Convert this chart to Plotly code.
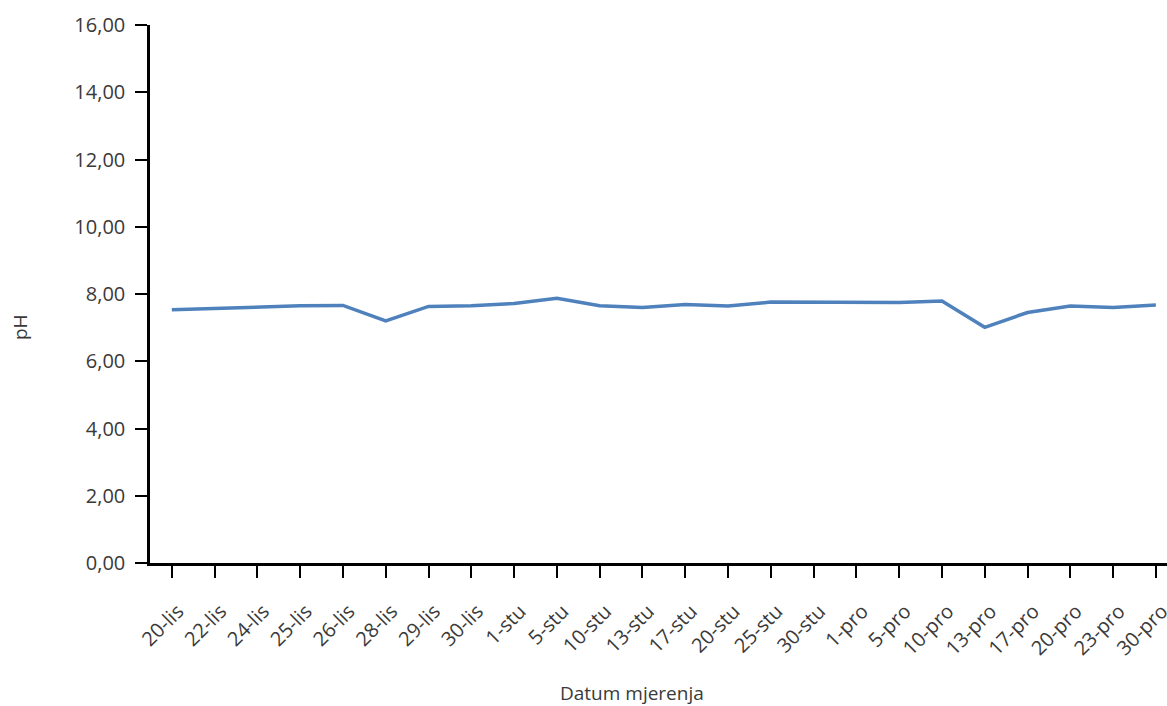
import plotly.graph_objects as go

dates = ["20-lis", "22-lis", "24-lis", "25-lis", "26-lis", "28-lis", "29-lis", "30-lis",
         "1-stu", "5-stu", "10-stu", "13-stu", "17-stu", "20-stu", "25-stu", "30-stu",
         "1-pro", "5-pro", "10-pro", "13-pro", "17-pro", "20-pro", "23-pro", "30-pro"]
ph = [7.53, 7.57, 7.62, 7.65, 7.66, 7.20, 7.63, 7.65,
      7.72, 7.87, 7.65, 7.60, 7.69, 7.64, 7.76, 7.76,
      7.75, 7.75, 7.79, 7.01, 7.45, 7.64, 7.60, 7.67]
y_ticks = [0, 2, 4, 6, 8, 10, 12, 14, 16]
y_tick_labels = ["0,00", "2,00", "4,00", "6,00", "8,00", "10,00", "12,00", "14,00", "16,00"]

FONT = "Open Sans, Noto Sans, sans-serif"
TXT = "#3a3a3a"

W, H = 1167, 706
L, T, R, B = 150, 25, 0, 143
PW = W - L - R
PH = H - T - B

fig = go.Figure()
fig.add_trace(go.Scatter(
    x=list(range(len(dates))), y=ph, mode="lines",
    line=dict(color="#4F81BD", width=3.5),
    hoverinfo="skip", showlegend=False))

fig.update_layout(
    width=W, height=H,
    margin=dict(l=L, r=R, t=T, b=B, pad=0, autoexpand=False),
    paper_bgcolor="white", plot_bgcolor="white",
    font=dict(family=FONT, color=TXT, size=19),
    xaxis=dict(
        range=[-0.51, 23.26], automargin=False,
        tickmode="array", tickvals=list(range(len(dates))), ticktext=dates,
        tickangle=-45, ticks="outside", ticklen=12, tickwidth=2, tickcolor="black",
        ticklabelstandoff=14, ticklabelshift=6, ticklabeloverflow="allow",
        showline=True, linecolor="black", linewidth=2.5,
        showgrid=False, zeroline=False,
        tickfont=dict(family=FONT, color=TXT, size=20)),
    yaxis=dict(
        range=[0, 16], automargin=False,
        tickmode="array", tickvals=y_ticks, ticktext=y_tick_labels,
        ticks="outside", ticklen=12, tickwidth=2, tickcolor="black",
        ticklabelstandoff=6,
        showline=True, linecolor="black", linewidth=2.5,
        showgrid=False, zeroline=False,
        tickfont=dict(family=FONT, color=TXT, size=20)),
    annotations=[
        dict(text="Datum mjerenja", xref="paper", yref="paper",
             x=(632 - L) / PW, y=-(693 - 563) / PH, xanchor="center", yanchor="middle",
             showarrow=False, font=dict(family=FONT, color=TXT, size=19)),
        dict(text="pH", xref="paper", yref="paper",
             x=-(L - 20) / PW, y=(563 - 327) / PH, xanchor="center", yanchor="middle",
             textangle=-90, showarrow=False, font=dict(family=FONT, color=TXT, size=19)),
    ],
)

fig.write_html("out.html",
               config={"displayModeBar": False},
               post_script="document.body.style.margin='0px';document.body.style.overflow='hidden';")
